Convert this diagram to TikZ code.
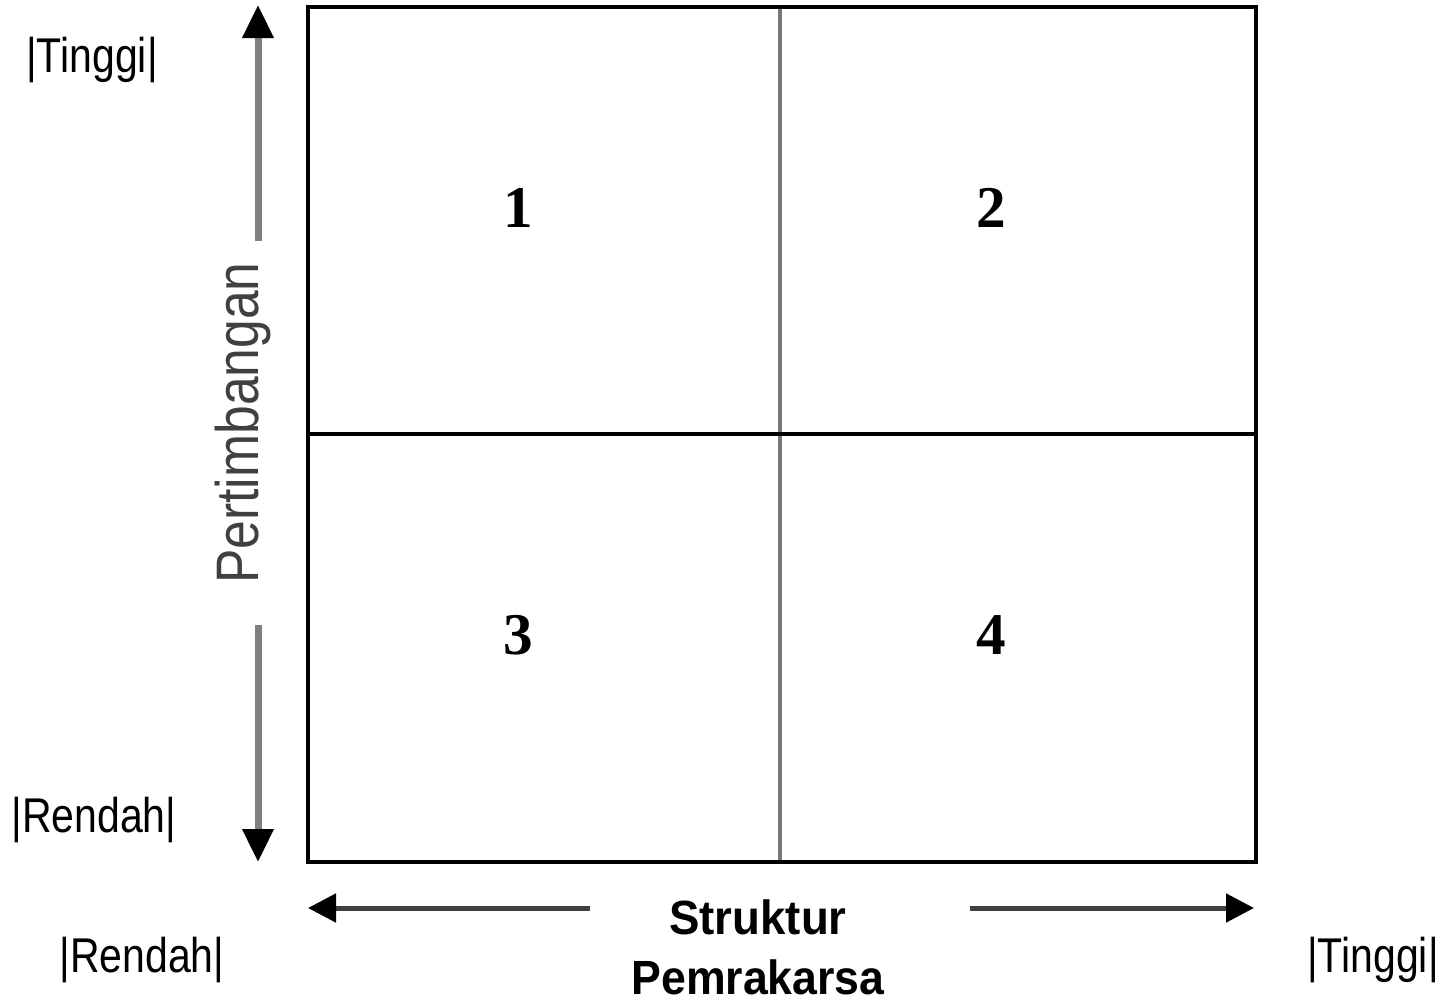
\documentclass[tikz,border=0pt]{standalone}
\usepackage{fontspec}
\setmainfont{Liberation Serif}
\setsansfont{Liberation Sans}
\usetikzlibrary{arrows.meta}
\definecolor{axisgray}{HTML}{808080}
\definecolor{divgray}{HTML}{787878}
\definecolor{darkline}{HTML}{404040}
\tikzstyle{quad}=[font=\fontsize{29.6}{30}\selectfont\bfseries, inner sep=0pt]
\tikzstyle{level}=[font=\sffamily\fontsize{24.4}{26}\selectfont, inner sep=0pt]
\tikzstyle{vaxis}=[draw, line width=3.5pt, axisgray, -{Triangle[length=16.5pt, width=15pt, color=black]}]
\tikzstyle{haxis}=[draw, line width=2.5pt, darkline, -{Triangle[length=14pt, width=14pt, color=black]}]

\begin{document}
\begin{tikzpicture}[x=0.5pt, y=-0.5pt]
    \useasboundingbox (0,0) rectangle (1453,1002);
    % Corners of the grid
    \coordinate (tl) at (308,7);
    \coordinate (br) at (1256,862);
    \coordinate (mt) at (780,7);
    \coordinate (mb) at (780,862);
    \coordinate (ml) at (308,434);
    \coordinate (mr) at (1256,434);
    \draw[divgray, line width=1.8pt] (mt) -- (mb);
    \draw[line width=2pt] (ml) -- (mr);
    \draw[line width=2pt] (tl) rectangle (br);

    % Numbers of the quadrants
    \foreach \pos/\name in {{(518,208)/1}, {(991,208)/2}, {(518,635)/3}, {(991,635)/4}}
        \node[quad] (q\name) at \pos {\name};

    % Level labels
    \node[level] (ytinggi) at (92,60) {\scalebox{0.84}[1]{|Tinggi|}};
    \node[level] (yrendah) at (94,820) {\scalebox{0.84}[1]{|Rendah|}};
    \node[level] (xrendah) at (142,960) {\scalebox{0.84}[1]{|Rendah|}};
    \node[level] (xtinggi) at (1373,960) {\scalebox{0.84}[1]{|Tinggi|}};

    % Axis titles
    \node[font=\sffamily\fontsize{30}{30}\selectfont, text=black!75, inner sep=0pt, rotate=90] (pert) at (243,423) {\scalebox{0.86}[1]{Pertimbangan}};
    \node[font=\sffamily\bfseries\fontsize{24}{30}\selectfont, align=center, inner sep=0pt] (struk) at (758,947) {\scalebox{0.95}[1]{Struktur}\\\scalebox{0.93}[1]{Pemrakarsa}};

    % Axis arrows
    \coordinate (pu) at (258,241);
    \coordinate (pd) at (258,625);
    \coordinate (ptop) at (258,5);
    \coordinate (pbot) at (258,862);
    \coordinate (sl) at (590,908);
    \coordinate (sr) at (970,908);
    \coordinate (sleft) at (308,908);
    \coordinate (sright) at (1254,908);
    \foreach \source/ \dest in {pu/ptop, pd/pbot}
        \path[vaxis] (\source) -- (\dest);
    \foreach \source/ \dest in {sl/sleft, sr/sright}
        \path[haxis] (\source) -- (\dest);
\end{tikzpicture}
\end{document}
